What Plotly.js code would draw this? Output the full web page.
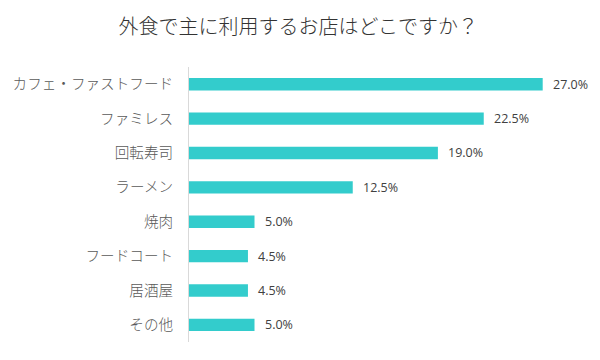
<!DOCTYPE html>
<html>
<head>
<meta charset="utf-8">
<script src="https://cdn.plot.ly/plotly-3.0.1.min.js"></script>
<style>html,body{margin:0;padding:0;background:#fff;}#chart{width:600px;height:360px;}</style>
</head>
<body>
<div id="chart"></div>
<script>
const categories = ["カフェ・ファストフード", "ファミレス", "回転寿司", "ラーメン", "焼肉", "フードコート", "居酒屋", "その他"];
const values = [27.0, 22.5, 19.0, 12.5, 5.0, 4.5, 4.5, 5.0];
const titleText = "外食で主に利用するお店はどこですか？";

const trace = {
  type: "bar",
  orientation: "h",
  x: values,
  y: categories,
  width: 0.36,
  marker: {color: "#33CCCC"},
  hoverinfo: "none"
};

const annotations = values.map((v, i) => ({
  x: v, y: categories[i], xref: "x", yref: "y",
  text: v.toFixed(1) + "%",
  showarrow: false, xanchor: "left", xshift: 8,
  font: {family: "'Open Sans', sans-serif", size: 12.5, color: "#404040"}
}));

const layout = {
  width: 600, height: 360,
  margin: {l: 189, r: 18, t: 67, b: 18},
  paper_bgcolor: "#fff", plot_bgcolor: "#fff",
  title: {text: titleText, x: 0.497, xanchor: "center", y: 0.925, yanchor: "middle",
          font: {family: "'Noto Sans CJK JP', sans-serif", size: 20, weight: 300, color: "#333333"}},
  xaxis: {range: [0, 30], visible: false, fixedrange: true},
  yaxis: {autorange: "reversed", showline: true, linecolor: "#d9d9d9", linewidth: 1,
          ticks: "", showgrid: false, zeroline: false, ticklabelstandoff: 12,
          tickfont: {family: "'Noto Sans CJK JP', sans-serif", size: 14.6, weight: 300, color: "#595959"}},
  annotations: annotations,
  showlegend: false
};

Plotly.newPlot("chart", [trace], layout, {displayModeBar: false, staticPlot: true});
</script>
</body>
</html>
